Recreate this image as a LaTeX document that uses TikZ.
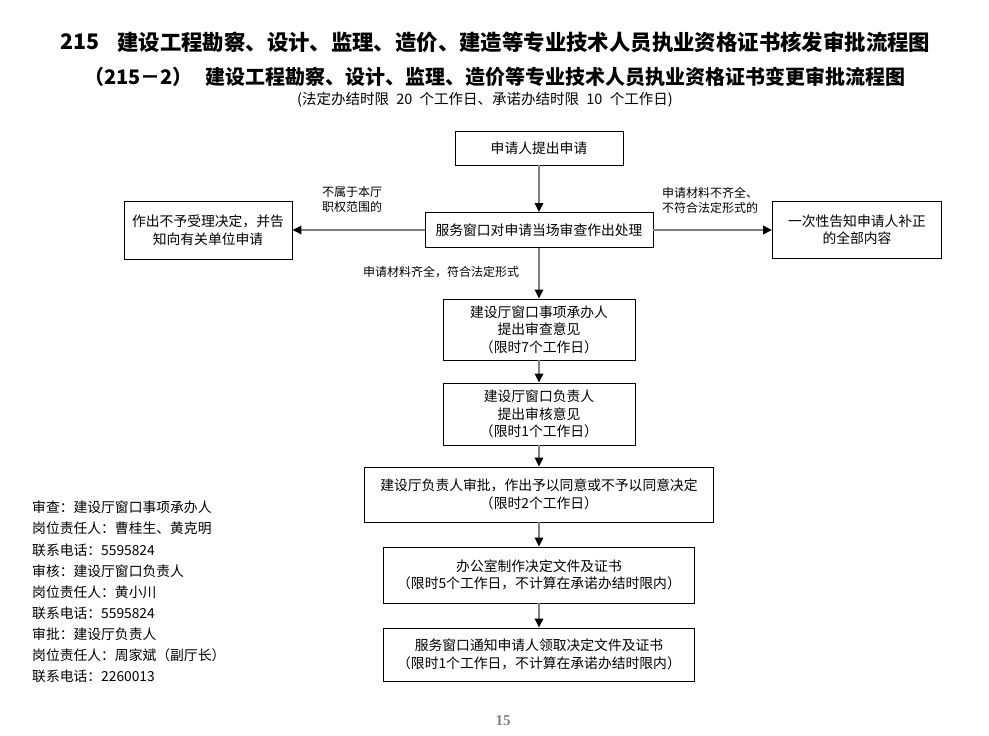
\documentclass[tikz,border=0pt]{standalone}
\usepackage{fontspec}
\setmainfont{Noto Sans CJK SC}
\newfontfamily\pagefont{Liberation Serif}
\usetikzlibrary{arrows.meta}
\begin{document}
\begin{tikzpicture}[x=1pt,y=-1pt,
  every node/.style={inner sep=0pt,font=\fontsize{13.8}{17.5}\selectfont},
  box/.style={draw,line width=0.9pt,align=center},
  note/.style={align=left,font=\fontsize{12}{15}\selectfont},
  >={Triangle[length=9pt,width=8.5pt,color=black]},
  link/.style={->,draw=gray,line width=1.6pt}]
\useasboundingbox (0,0) rectangle (989,736);
% titles
\node[anchor=west,font=\fontsize{21.4}{22}\selectfont\bfseries] (num1) at (60,42) {215};
\node[anchor=west,font=\fontsize{21.4}{22}\selectfont\bfseries] (title1) at (117,42) {建设工程勘察、设计、监理、造价、建造等专业技术人员执业资格证书核发审批流程图};
\node[anchor=west,font=\fontsize{20}{21}\selectfont\bfseries] (num2) at (84,77) {（215－2）};
\node[anchor=west,font=\fontsize{20}{21}\selectfont\bfseries] (title2) at (205,77) {建设工程勘察、设计、监理、造价等专业技术人员执业资格证书变更审批流程图};
\node[anchor=west,font=\fontsize{14.5}{15}\selectfont] (limit) at (297,100) {(法定办结时限\hspace{0.5em}20\hspace{0.5em}个工作日、承诺办结时限\hspace{0.5em}10\hspace{0.5em}个工作日)};
% flow
\node[box,minimum width=168pt,minimum height=34pt] (apply) at (539,148) {申请人提出申请};
\node[box,minimum width=228pt,minimum height=35pt] (window) at (539,230) {服务窗口对申请当场审查作出处理};
\node[box,minimum width=168pt,minimum height=58pt] (reject) at (208,230) {作出不予受理决定，并告\\知向有关单位申请};
\node[box,minimum width=169pt,minimum height=57pt] (notice) at (857,230) {一次性告知申请人补正\\的全部内容};
\node[box,minimum width=192pt,minimum height=61pt] (review) at (539,329.5) {建设厅窗口事项承办人\\提出审查意见\\（限时7个工作日）};
\node[box,minimum width=192pt,minimum height=62pt] (audit) at (539,414) {建设厅窗口负责人\\提出审核意见\\（限时1个工作日）};
\node[box,minimum width=349pt,minimum height=55pt] (approve) at (539,494.5) {建设厅负责人审批，作出予以同意或不予以同意决定\\（限时2个工作日）};
\node[box,minimum width=311pt,minimum height=56pt] (make) at (539,575) {办公室制作决定文件及证书\\（限时5个工作日，不计算在承诺办结时限内）};
\node[box,minimum width=311pt,minimum height=53pt] (notify) at (539,654.5) {服务窗口通知申请人领取决定文件及证书\\（限时1个工作日，不计算在承诺办结时限内）};
\node[note,anchor=west] (outside) at (322,199.5) {不属于本厅\\职权范围的};
\node[note,anchor=west] (missing) at (662,200.5) {申请材料不齐全、\\不符合法定形式的};
\node[note,anchor=west] (complete) at (363,272) {申请材料齐全，符合法定形式};
\draw[link] (apply) -- (window);
\draw[link] (window) -- (reject);
\draw[link] (window) -- (notice);
\draw[link] (window) -- (review);
\draw[link] (review) -- (audit);
\draw[link] (audit) -- (approve);
\draw[link] (approve) -- (make);
\draw[link] (make) -- (notify);
% staff
\node[anchor=north west,align=left,font=\fontsize{13.8}{21.1}\selectfont] (staff) at (32,501) {审查：建设厅窗口事项承办人\\岗位责任人：曹桂生、黄克明\\联系电话：5595824\\审核：建设厅窗口负责人\\岗位责任人：黄小川\\联系电话：5595824\\审批：建设厅负责人\\岗位责任人：周家斌（副厅长）\\联系电话：2260013};
\node[text=gray,font=\pagefont\fontsize{15}{15}\selectfont\bfseries] (page) at (503,721) {15};
\end{tikzpicture}
\end{document}
